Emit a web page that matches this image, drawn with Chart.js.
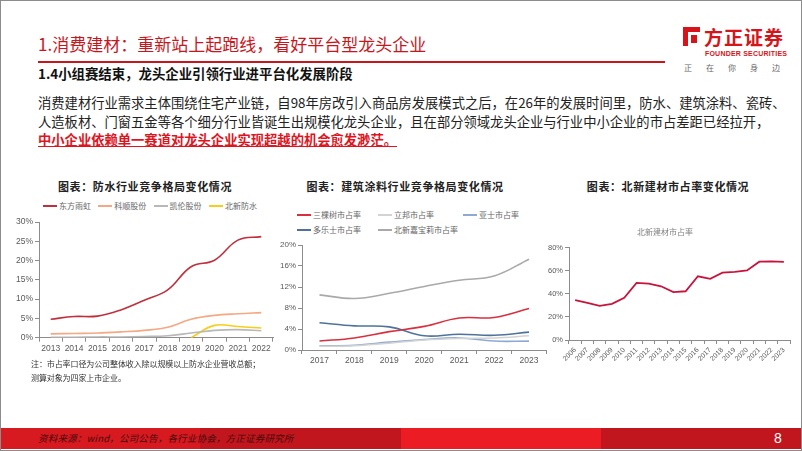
<!DOCTYPE html>
<html>
<head>
<meta charset="utf-8">
<script src="https://cdn.jsdelivr.net/npm/chart.js@4.4.0/dist/chart.umd.min.js"></script>
<style>
  html, body { margin: 0; padding: 0; background: #fff; }
  #slide { position: relative; width: 802px; height: 451px; overflow: hidden; background: #fff; font-family: "Noto Sans CJK SC", sans-serif; }
  .frame { position: absolute; left: 0; top: 0; width: 802px; height: 451px; box-sizing: border-box; border: 1px solid #8c8c8c; pointer-events: none; z-index: 10; }
  .abs { position: absolute; white-space: nowrap; }
  .ctitle { font-size: 11px; font-weight: 700; color: #222; letter-spacing: 0.6px; transform: translateX(-50%); line-height: 14px; }
  .para { left: 38px; font-size: 13.3px; color: #222; line-height: 18px; }
  .legend { position: absolute; font-size: 8px; color: #666; line-height: 12px; }
  .legend .item { position: absolute; white-space: nowrap; }
  .legend .swatch { display: inline-block; width: 14px; height: 2px; vertical-align: middle; margin-right: 2px; position: relative; top: -1px; }
  canvas { position: absolute; }
</style>
</head>
<body>
<div id="slide">
  <!-- header -->
  <div class="abs" style="left:38px;top:33px;font-size:17px;color:#c8161d;line-height:22px;">1.消费建材：重新站上起跑线，看好平台型龙头企业</div>
  <div class="abs" style="left:38px;top:61px;width:627px;height:2px;background:#c8161d;"></div>
  <div class="abs" style="left:38px;top:64px;font-size:13.4px;font-weight:700;color:#111;line-height:18px;">1.4小组赛结束，龙头企业引领行业进平台化发展阶段</div>

  <!-- logo -->
  <div class="abs" style="left:683px;top:27px;width:17px;height:19px;background:#d7141a;"></div>
  <div class="abs" style="left:688px;top:32px;width:12px;height:14px;background:#fff;"></div>
  <div class="abs" style="left:691px;top:35px;width:6px;height:8px;background:#d7141a;"></div>
  <div class="abs" style="left:704px;top:25px;font-size:19px;font-weight:700;color:#d7141a;line-height:24px;letter-spacing:1px;">方正证券</div>
  <div class="abs" style="left:705px;top:49px;font-size:7px;font-weight:700;color:#d7141a;line-height:9px;letter-spacing:0.2px;font-family:'Liberation Sans',sans-serif;">FOUNDER SECURITIES</div>
  <div class="abs" style="left:684px;top:62px;font-size:8px;color:#666;line-height:11px;letter-spacing:14px;">正在你身边</div>

  <!-- paragraph -->
  <div class="abs para" style="top:94px;">消费建材行业需求主体围绕住宅产业链，自98年房改引入商品房发展模式之后，在26年的发展时间里，防水、建筑涂料、瓷砖、</div>
  <div class="abs para" style="top:113px;">人造板材、门窗五金等各个细分行业皆诞生出规模化龙头企业，且在部分领域龙头企业与行业中小企业的市占差距已经拉开，</div>
  <div class="abs para" style="top:131px;color:#e0141e;font-weight:700;text-decoration:underline;">中小企业依赖单一赛道对龙头企业实现超越的机会愈发渺茫。</div>

  <!-- chart titles -->
  <div class="abs ctitle" style="left:145px;top:179px;">图表：防水行业竞争格局变化情况</div>
  <div class="abs ctitle" style="left:405px;top:179px;">图表：建筑涂料行业竞争格局变化情况</div>
  <div class="abs ctitle" style="left:668px;top:179px;">图表：北新建材市占率变化情况</div>

  <div id="legend1" class="legend" style="left:43px;top:200px;"></div>
  <div id="legend2" class="legend" style="left:297px;top:209px;"></div>

  <canvas id="chart1" width="285" height="152" style="left:0px;top:210px;"></canvas>
  <canvas id="chart2" width="282" height="135" style="left:268px;top:238px;"></canvas>
  <canvas id="chart3" width="260" height="140" style="left:540px;top:226px;"></canvas>

  <div class="abs" style="left:31px;top:357px;font-size:8px;color:#333;line-height:14px;letter-spacing:-0.1px;">注：市占率口径为公司整体收入除以规模以上防水企业营收总额；<br>测算对象为四家上市企业。</div>

  <!-- footer -->
  <div class="abs" style="left:0;top:428px;width:200px;height:21px;background:#d71920;"></div>
  <div class="abs" style="left:200px;top:428px;width:201px;height:21px;background:#c1161e;"></div>
  <div class="abs" style="left:401px;top:428px;width:200px;height:21px;background:#ec1c24;"></div>
  <div class="abs" style="left:601px;top:428px;width:201px;height:21px;background:#c1161e;"></div>
  <div class="abs" style="left:38px;top:431px;font-size:9.5px;font-style:italic;color:#4a0a0a;line-height:14px;letter-spacing:0.2px;">资料来源：wind，公司公告，各行业协会，方正证券研究所</div>
  <div class="abs" style="left:774px;top:429px;font-size:14px;color:#fff;line-height:18px;font-family:'Liberation Sans',sans-serif;">8</div>

  <div class="frame"></div>
</div>

<script>
// 防水行业竞争格局 (市占率, %)
const waterYears = ['2013', '2014', '2015', '2016', '2017', '2018', '2019', '2020', '2021', '2022'];
const waterNames = ['东方雨虹', '科顺股份', '凯伦股份', '北新防水'];
const waterColors = ['#c0303c', '#f4a883', '#b8b8b8', '#f5cf1a'];
const dongfangYuhong = [4.8, 5.5, 5.6, 7.2, 9.7, 12.4, 18.4, 20.1, 25.3, 26.2];
const keshun = [1.0, 1.1, 1.2, 1.5, 1.9, 2.7, 4.8, 5.8, 6.2, 6.5];
const kailun = [0.1, 0.1, 0.2, 0.2, 0.3, 0.5, 1.2, 1.9, 2.1, 1.8];
const beixinWater = [null, null, null, null, null, null, 0, 3.2, 2.9, 2.5];

// 建筑涂料行业竞争格局 (市占率, %)
const coatYears = ['2017', '2018', '2019', '2020', '2021', '2022', '2023'];
const coatNames = ['三棵树市占率', '立邦市占率', '亚士市占率', '多乐士市占率', '北新嘉宝莉市占率'];
const coatColors = ['#d9303e', '#d3d3d3', '#8faad2', '#4f7398', '#a9a9a9'];
const sankeshu = [1.7, 2.3, 3.5, 4.5, 6.1, 6.2, 7.9];
const libang = [0.7, 0.8, 1.3, 1.9, 2.2, 2.3, 2.7];
const yashi = [0.8, 0.9, 1.5, 2.0, 2.3, 1.7, 1.7];
const duoleshi = [5.2, 4.6, 4.4, 2.7, 3.0, 2.8, 3.4];
const beixinJiabaoli = [10.5, 9.8, 10.8, 12.1, 13.3, 14.1, 17.3];

// 北新建材市占率 (%)
const gypsumYears = ['2006', '2007', '2008', '2009', '2010', '2011', '2012', '2013', '2014', '2015',
  '2016', '2017', '2018', '2019', '2020', '2021', '2022', '2023'];
const beixinShare = [34.5, 32.2, 29.6, 31.3, 36.5, 49.4, 48.9, 46.5, 41.5, 42.2,
  55.2, 53.0, 58.3, 58.9, 60.2, 67.8, 68.0, 67.6];

const axisGray = '#8c8c8c';
const latinFont = "'Liberation Sans', 'DejaVu Sans', sans-serif";

function fixWidth(w) { return function (scale) { scale.width = w; }; }
function fixHeight(h) { return function (scale) { scale.height = h; }; }

// html legend, one swatch + name per series
function buildLegend(el, names, colors, colWidths, perRow) {
  names.forEach((name, i) => {
    const col = i % perRow;
    let left = 0;
    for (let c = 0; c < col; c++) left += colWidths[c % colWidths.length];
    const item = document.createElement('div');
    item.className = 'item';
    item.style.left = left + 'px';
    item.style.top = (Math.floor(i / perRow) * 15) + 'px';
    const sw = document.createElement('span');
    sw.className = 'swatch';
    sw.style.background = colors[i];
    item.appendChild(sw);
    item.appendChild(document.createTextNode(name));
    el.appendChild(item);
  });
}

function lineSet(label, data, color, width, tension) {
  return {
    label: label, data: data, borderColor: color, backgroundColor: color,
    borderWidth: width, pointRadius: 0, tension: tension, fill: false
  };
}

function axes(opts) {
  return {
    x: {
      offset: true,
      grid: { display: true, offset: true, drawOnChartArea: false, drawTicks: true, tickLength: opts.xTick, color: axisGray },
      border: { display: true, color: axisGray },
      ticks: {
        color: '#595959', font: { family: latinFont, size: opts.xFont },
        autoSkip: false, maxRotation: opts.rot, minRotation: opts.rot, padding: 2
      },
      afterFit: fixHeight(opts.xHeight)
    },
    y: {
      min: 0, max: opts.yMax,
      grid: { display: true, drawOnChartArea: false, drawTicks: true, tickLength: 4, color: axisGray },
      border: { display: true, color: axisGray },
      ticks: {
        stepSize: opts.yStep, color: '#595959', padding: 2,
        font: { family: latinFont, size: opts.yFont },
        callback: v => v + '%'
      },
      afterFit: fixWidth(opts.yWidth)
    }
  };
}

buildLegend(document.getElementById('legend1'), waterNames, waterColors, [55.3], 4);
buildLegend(document.getElementById('legend2'), coatNames, coatColors, [81, 85], 3);

new Chart(document.getElementById('chart1'), {
  type: 'line',
  data: {
    labels: waterYears,
    datasets: [
      lineSet(waterNames[0], dongfangYuhong, waterColors[0], 1.6, 0.4),
      lineSet(waterNames[1], keshun, waterColors[1], 1.6, 0.4),
      lineSet(waterNames[2], kailun, waterColors[2], 1.6, 0.4),
      lineSet(waterNames[3], beixinWater, waterColors[3], 1.6, 0.4)
    ]
  },
  options: {
    responsive: false, animation: false,
    layout: { padding: { left: 0, right: 12, top: 12, bottom: 0 } },
    plugins: { legend: { display: false }, tooltip: { enabled: false } },
    scales: axes({ xTick: 4, xFont: 8.5, rot: 0, xHeight: 24.3, yMax: 30, yStep: 5, yFont: 8.5, yWidth: 39 })
  }
});

new Chart(document.getElementById('chart2'), {
  type: 'line',
  data: {
    labels: coatYears,
    datasets: [
      lineSet(coatNames[0], sankeshu, coatColors[0], 1.6, 0.4),
      lineSet(coatNames[1], libang, coatColors[1], 1.6, 0.4),
      lineSet(coatNames[2], yashi, coatColors[2], 1.6, 0.4),
      lineSet(coatNames[3], duoleshi, coatColors[3], 1.6, 0.4),
      lineSet(coatNames[4], beixinJiabaoli, coatColors[4], 1.6, 0.4)
    ]
  },
  options: {
    responsive: false, animation: false,
    layout: { padding: { left: 0, right: 3.5, top: 7, bottom: 0 } },
    plugins: { legend: { display: false }, tooltip: { enabled: false } },
    scales: axes({ xTick: 4, xFont: 8.5, rot: 0, xHeight: 23, yMax: 20, yStep: 2, yFont: 8, yWidth: 34 })
  }
});

new Chart(document.getElementById('chart3'), {
  type: 'line',
  data: {
    labels: gypsumYears,
    datasets: [lineSet('北新建材市占率', beixinShare, '#c8143c', 1.8, 0)]
  },
  options: {
    responsive: false, animation: false,
    layout: { padding: { left: 0, right: 10, top: 0, bottom: 0 } },
    plugins: {
      legend: { display: false }, tooltip: { enabled: false },
      title: {
        display: true, text: '北新建材市占率', color: '#7f7f7f',
        font: { family: "'Noto Sans CJK SC', sans-serif", size: 8, weight: 'normal' },
        padding: { top: 1, bottom: 11 }
      }
    },
    scales: axes({ xTick: 4, xFont: 7, rot: 45, xHeight: 26, yMax: 80, yStep: 10, yFont: 7.5, yWidth: 29 })
  }
});
</script>
</body>
</html>
